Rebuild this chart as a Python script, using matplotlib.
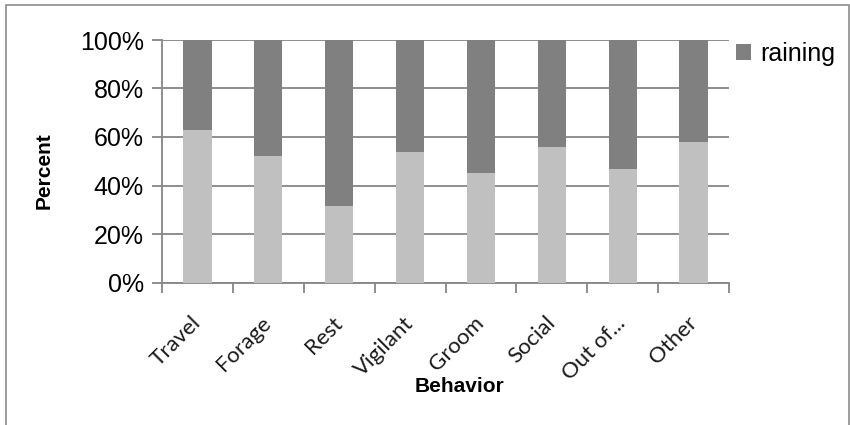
import matplotlib
matplotlib.use("Agg")
import matplotlib.pyplot as plt
from matplotlib.patches import Rectangle
from matplotlib.ticker import FuncFormatter, FixedLocator
import numpy as np

behaviors = ["Travel", "Forage", "Rest", "Vigilant", "Groom", "Social", "Out of...", "Other"]
not_raining = [63, 52, 31.5, 54, 45, 56, 47, 58]
raining = [100 - v for v in not_raining]
y_ticks = [0, 20, 40, 60, 80, 100]

LIGHT = "#c0c0c0"
DARK = "#808080"
GRID = "#868686"
SANS = ["Liberation Sans", "DejaVu Sans"]

W, H = 850, 425
fig = plt.figure(figsize=(W / 100, H / 100), dpi=100)
ax = fig.add_axes([162 / W, 1 - 282.5 / H, (729 - 162) / W, (282.5 - 40) / H])

x = np.arange(len(behaviors))
ax.bar(x, not_raining, width=0.4, color=LIGHT, zorder=3, label="_nolegend_")
ax.bar(x, raining, width=0.4, bottom=not_raining, color=DARK, zorder=3, label="raining")

ax.set_xlim(-0.5, len(behaviors) - 0.5)
ax.set_ylim(0, 100)
ax.set_yticks(y_ticks)
ax.yaxis.set_major_formatter(FuncFormatter(lambda v, p: f"{v:.0f}%"))
ax.grid(axis="y", color=GRID, linewidth=1.3, zorder=1)
ax.set_axisbelow(True)

# category labels at the centres, tick marks at the boundaries
ax.set_xticks(x)
ax.set_xticklabels(behaviors, rotation=45, ha="right", va="center", rotation_mode="anchor",
                   fontsize=16, family=["Lato", "DejaVu Sans"], color="#1a1a1a")
ax.tick_params(axis="x", length=0, pad=27)
ax.xaxis.set_minor_locator(FixedLocator(np.arange(-0.5, len(behaviors), 1.0)))
ax.tick_params(axis="x", which="minor", length=7, width=1.3, color=GRID, direction="out")
ax.tick_params(axis="y", length=7, width=1.3, color=GRID, direction="out",
               labelsize=18, pad=6)
for lab in ax.get_yticklabels():
    lab.set_family(SANS)

for s in ["top", "right"]:
    ax.spines[s].set_visible(False)
for s in ["left", "bottom"]:
    ax.spines[s].set_color(GRID)
    ax.spines[s].set_linewidth(1.3)

# axis titles
fig.text(460 / W, 1 - 387 / H, "Behavior", fontsize=15, fontweight="bold",
         family=SANS, ha="center", va="center")
fig.text(44 / W, 1 - 171 / H, "Percent", fontsize=15, fontweight="bold",
         family=SANS, ha="center", va="center", rotation=90)

fig.legend(*ax.get_legend_handles_labels(), loc="center left",
           bbox_to_anchor=(736 / W, 1 - 54 / H), frameon=False,
           prop={"family": SANS, "size": 18},
           handlelength=0.6, handleheight=0.6, handletextpad=0.35,
           borderpad=0, borderaxespad=0)

# outer chart frame
fig.patches.append(Rectangle((6 / W, -0.05), (849 - 6) / W, 1.05 - 5 / H,
                             transform=fig.transFigure, fill=False,
                             edgecolor="#8c8c8c", linewidth=1.2))

fig.savefig("out.png", dpi=100, facecolor="white")
